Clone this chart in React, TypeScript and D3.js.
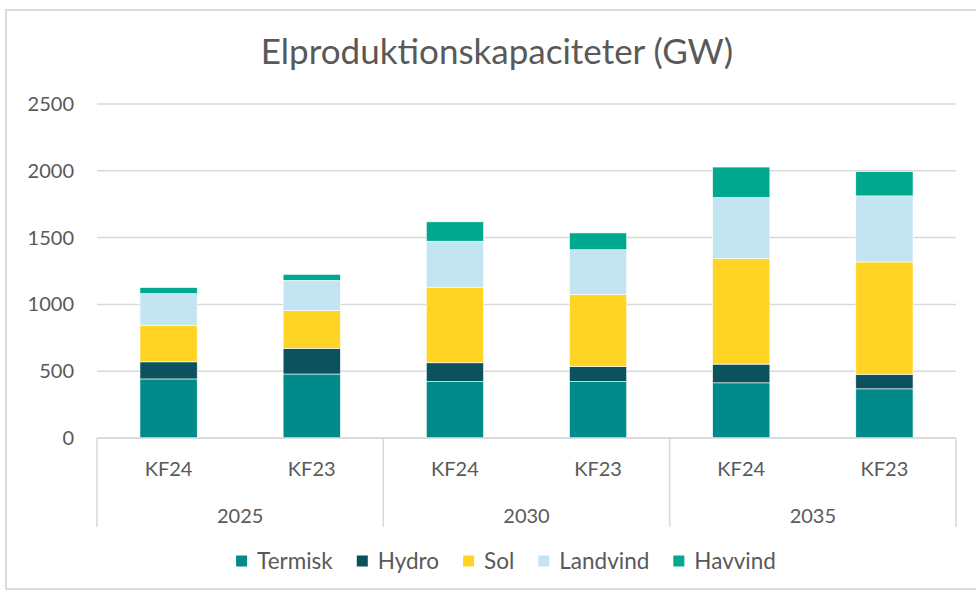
import React from 'react'
import * as d3 from 'd3'

const years = ['2025', '2030', '2035']
const scenarios = ['KF24', 'KF23']
const seriesNames = ['Termisk', 'Hydro', 'Sol', 'Landvind', 'Havvind']
const colors = ['#008b8a', '#0b525e', '#ffd424', '#c3e5f1', '#00a88f']

// one value per bar: 2025 KF24, 2025 KF23, 2030 KF24, 2030 KF23, 2035 KF24, 2035 KF23
const termisk = [442, 479, 423, 423, 413, 368]
const hydro = [128, 192, 140, 112, 140, 109]
const sol = [274, 282, 566, 539, 791, 841]
const landvind = [237, 227, 344, 335, 456, 494]
const havvind = [45, 45, 145, 126, 228, 182]
const yTicks = [0, 500, 1000, 1500, 2000, 2500]

const W = 976
const H = 593
const font = 'Lato, "Open Sans", sans-serif'
const textColor = '#595959'
const gridColor = '#d9d9d9'

const measure = (s: string, size: number) => {
    const ctx = document.createElement('canvas').getContext('2d')
    ctx.font = `${size}px ${font}`
    return ctx.measureText(s).width
}

export default function App() {
    const left = 97
    const right = 956
    const top = 104
    const bottom = 438

    const x0 = d3.scaleBand().domain(years).range([left, right])
    const x1 = d3
        .scaleBand()
        .domain(scenarios)
        .range([0, x0.bandwidth()])
        .paddingInner(0.6)
        .paddingOuter(0.3)
    const y = d3.scaleLinear().domain([0, 2500]).range([bottom, top])

    const rows = years.flatMap((yr, i) =>
        scenarios.map((sc, j) => {
            const k = i * 2 + j
            return {
                year: yr,
                scenario: sc,
                Termisk: termisk[k],
                Hydro: hydro[k],
                Sol: sol[k],
                Landvind: landvind[k],
                Havvind: havvind[k]
            }
        })
    )
    const stacked = d3.stack().keys(seriesNames)(rows as any)

    // legend layout
    const legendSize = 22.5
    const sq = 11
    const sqGap = 10
    const itemGap = 24
    const widths = seriesNames.map(s => sq + sqGap + measure(s, legendSize))
    const totalW = d3.sum(widths) + itemGap * (seriesNames.length - 1)
    let lx = 506 - totalW / 2
    const legendItems = seriesNames.map((s, i) => {
        const item = { name: s, x: lx, color: colors[i] }
        lx += widths[i] + itemGap
        return item
    })

    const tickSize = 20

    return (
        <svg width={W} height={H} style={{ position: 'absolute', left: 0, top: 0, background: '#fff' }}>
            <rect x={6} y={10} width={990} height={579} fill="#fff" stroke={gridColor} strokeWidth={2} />
            <text x={497} y={64} textAnchor="middle" fontFamily={font} fontSize={35} fill={textColor}>
                Elproduktionskapaciteter (GW)
            </text>

            {yTicks.map(t => (
                <g key={t}>
                    <line x1={left} x2={right} y1={y(t)} y2={y(t)} stroke={gridColor} strokeWidth={1.5} />
                    <text
                        x={74}
                        y={y(t)}
                        dy="0.35em"
                        textAnchor="end"
                        fontFamily={font}
                        fontSize={tickSize}
                        fill={textColor}
                    >
                        {t}
                    </text>
                </g>
            ))}

            {stacked.map((s, i) => (
                <g key={s.key} fill={colors[i]}>
                    {s.map((d, k) => (
                        <rect
                            key={k}
                            x={x0(rows[k].year) + x1(rows[k].scenario)}
                            y={y(d[1])}
                            width={x1.bandwidth()}
                            height={y(d[0]) - y(d[1])}
                            stroke="#fff"
                            strokeWidth={0.6}
                        />
                    ))}
                </g>
            ))}

            {/* category axis */}
            <line x1={left} x2={right} y1={bottom} y2={bottom} stroke={gridColor} strokeWidth={1.5} />
            {[...years.map(yr => x0(yr)), right].map((xv, i) => (
                <line key={i} x1={xv} x2={xv} y1={bottom} y2={527} stroke={gridColor} strokeWidth={1.5} />
            ))}
            {rows.map((r, k) => (
                <text
                    key={k}
                    x={x0(r.year) + x1(r.scenario) + x1.bandwidth() / 2}
                    y={476}
                    textAnchor="middle"
                    fontFamily={font}
                    fontSize={tickSize}
                    fill={textColor}
                >
                    {r.scenario}
                </text>
            ))}
            {years.map(yr => (
                <text
                    key={yr}
                    x={x0(yr) + x0.bandwidth() / 2}
                    y={523}
                    textAnchor="middle"
                    fontFamily={font}
                    fontSize={tickSize}
                    fill={textColor}
                >
                    {yr}
                </text>
            ))}

            {legendItems.map(it => (
                <g key={it.name} transform={`translate(${it.x},561)`}>
                    <rect x={0} y={-sq / 2} width={sq} height={sq} fill={it.color} />
                    <text x={sq + sqGap} dy="0.35em" fontFamily={font} fontSize={legendSize} fill={textColor}>
                        {it.name}
                    </text>
                </g>
            ))}
        </svg>
    )
}
